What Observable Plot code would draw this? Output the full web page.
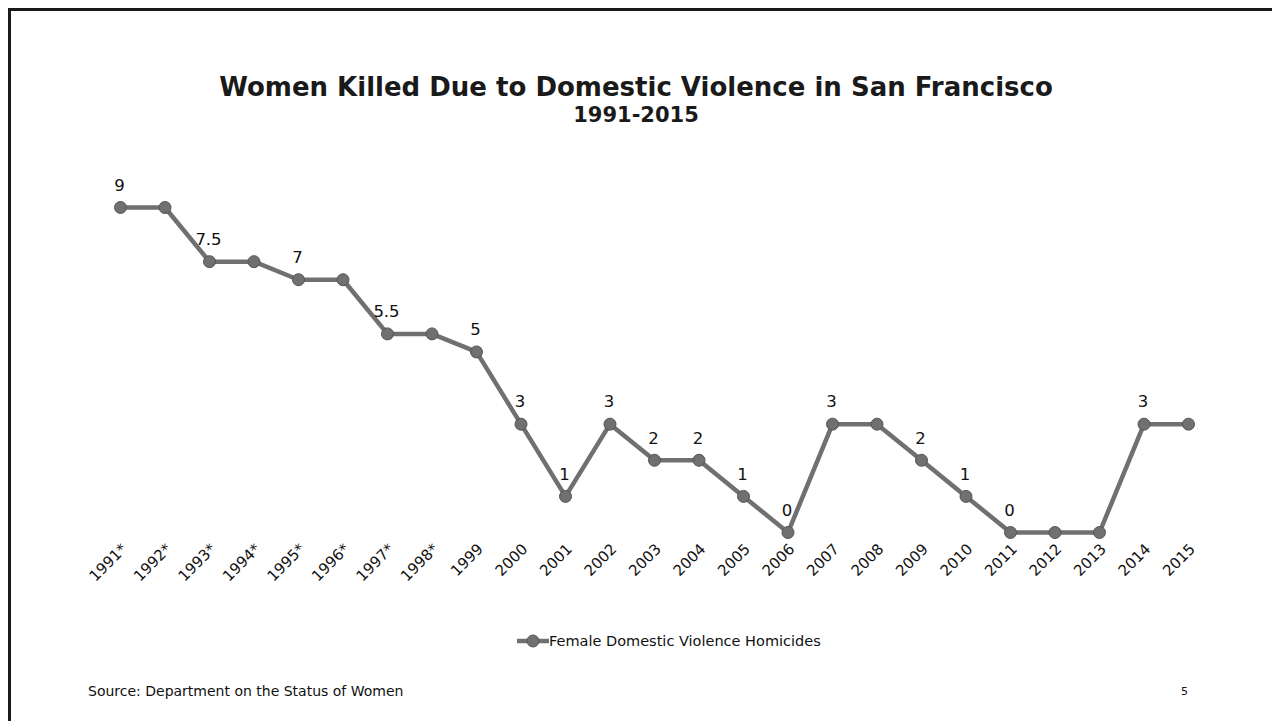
<!DOCTYPE html>
<html>
<head>
<meta charset="utf-8">
<script src="https://cdn.jsdelivr.net/npm/d3@7"></script>
<script src="https://cdn.jsdelivr.net/npm/@observablehq/plot@0.6"></script>
<style>
  html, body { margin: 0; padding: 0; background: #fff; }
  #page { position: relative; width: 1272px; height: 721px; overflow: hidden; background: #fff; font-family: "DejaVu Sans", sans-serif; color: #111; }
  #frame { position: absolute; left: 8px; top: 8px; right: -20px; bottom: -20px; border-left: 3px solid #1a1a1a; border-top: 3px solid #1a1a1a; }
  .title { position: absolute; left: 0; width: 1272px; text-align: center; font-weight: bold; line-height: 30px; color: #1a1a1a; }
  #chart { position: absolute; left: 0; top: 150px; }
  #legend { position: absolute; left: 517px; top: 633px; display: flex; align-items: center; font-size: 14.5px; }
  #source { position: absolute; left: 88px; top: 683px; font-size: 14px; }
  #pagenum { position: absolute; left: 1181px; top: 685px; font-size: 11px; }
</style>
</head>
<body>
<div id="page">
  <div id="frame"></div>
  <div class="title" style="top:72px; font-size:26px">Women Killed Due to Domestic Violence in San Francisco</div>
  <div class="title" style="top:100px; font-size:21px">1991-2015</div>
  <div id="chart"></div>
  <div id="legend"></div>
  <div id="source">Source: Department on the Status of Women</div>
  <div id="pagenum">5</div>
</div>
<script>
// ---- data ----
const yearLabels = ["1991*","1992*","1993*","1994*","1995*","1996*","1997*","1998*","1999","2000","2001","2002","2003","2004","2005","2006","2007","2008","2009","2010","2011","2012","2013","2014","2015"];
const homicides = [9, 9, 7.5, 7.5, 7, 7, 5.5, 5.5, 5, 3, 1, 3, 2, 2, 1, 0, 3, 3, 2, 1, 0, 0, 0, 3, 3];
const labelShown = [true,false,true,false,true,false,true,false,true,true,true,true,true,true,true,true,true,false,true,true,true,false,false,true,false];
const seriesName = "Female Domestic Violence Homicides";

const rows = yearLabels.map((y, i) => ({year: y, value: homicides[i], show: labelShown[i]}));

const lineColor = "#707070";
const dotStroke = "#555555";

const chart = Plot.plot({
  width: 1272,
  height: 450,
  marginLeft: 120,
  marginRight: 84,
  marginTop: 57,
  marginBottom: 68,
  x: {type: "point", domain: yearLabels, padding: 0, round: false, label: null},
  y: {domain: [0, 9], axis: null},
  style: {fontFamily: "DejaVu Sans, sans-serif", color: "#111", background: "transparent"},
  marks: [
    Plot.line(rows, {x: "year", y: "value", stroke: lineColor, strokeWidth: 4.5}),
    Plot.dot(rows, {x: "year", y: "value", r: 6, fill: lineColor, stroke: dotStroke, strokeWidth: 1}),
    Plot.text(rows.filter(d => d.show), {x: "year", y: "value", text: d => String(d.value), dy: -22, dx: -1, fontSize: 16.5, fill: "#111"}),
    Plot.axisX({tickRotate: -45, tickSize: 0, tickPadding: 14, dx: 4, fontSize: 15, fill: "#111", label: null})
  ]
});
document.getElementById("chart").appendChild(chart);

// legend
const lg = d3.select("#legend");
const sw = lg.append("svg").attr("width", 32).attr("height", 14);
sw.append("line").attr("x1", 0).attr("x2", 32).attr("y1", 7).attr("y2", 7).attr("stroke", lineColor).attr("stroke-width", 4.5);
sw.append("circle").attr("cx", 16).attr("cy", 7).attr("r", 6).attr("fill", lineColor).attr("stroke", dotStroke);
lg.append("span").text(seriesName);
</script>
</body>
</html>
